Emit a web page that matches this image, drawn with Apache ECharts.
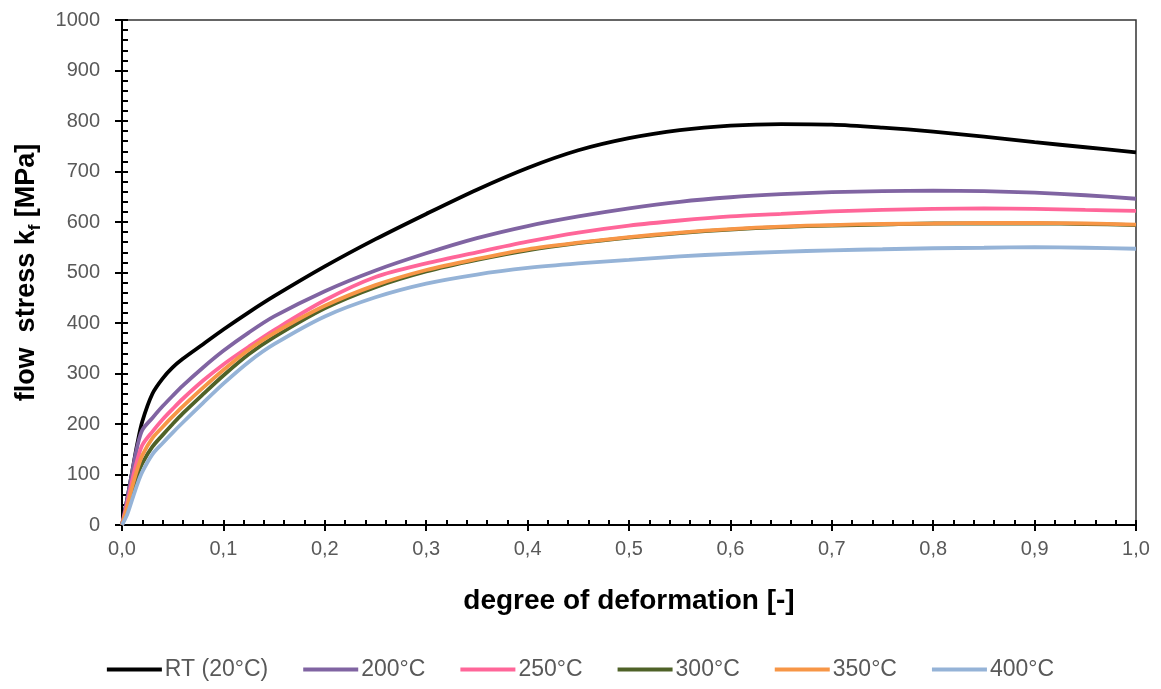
<!DOCTYPE html>
<html>
<head>
<meta charset="utf-8">
<script src="https://cdn.jsdelivr.net/npm/echarts@6/dist/echarts.min.js"></script>
<style>
html,body{margin:0;padding:0;background:#fff;}
#c{width:1161px;height:689px;}
</style>
</head>
<body>
<div id="c"></div>
<script>
const strain = [0, 0.005, 0.01, 0.015, 0.02, 0.03, 0.04, 0.05, 0.06, 0.08, 0.1, 0.125, 0.15, 0.2, 0.25, 0.3, 0.35, 0.4, 0.45, 0.5, 0.55, 0.6, 0.65, 0.7, 0.75, 0.8, 0.85, 0.9, 0.95, 1.0];
const seriesNames = ['RT (20°C)', '200°C', '250°C', '300°C', '350°C', '400°C'];
const kfRT  = [0, 50, 105, 160, 205, 260, 290, 312, 329, 358, 387, 421, 453, 512, 566, 616, 664, 707, 742, 766, 782, 791, 794, 793, 787, 779, 769, 758, 748, 738];
const kf200 = [0, 50, 105, 155, 188, 212, 235, 256, 276, 312, 345, 381, 413, 463, 504, 538, 568, 592, 611, 627, 640, 649, 655, 659, 661, 662, 661, 658, 653, 646];
const kf250 = [0, 42, 88, 128, 158, 185, 209, 230, 250, 286, 318, 353, 386, 445, 491, 518, 540, 561, 579, 593, 603, 611, 616, 621, 624, 626, 627, 626, 624, 622];
const kf300 = [0, 30, 65, 98, 122, 155, 178, 200, 221, 259, 296, 338, 372, 429, 471, 502, 525, 544, 558, 569, 578, 585, 590, 593, 595, 597, 597, 597, 596, 594];
const kf350 = [0, 35, 75, 110, 138, 172, 194, 215, 235, 272, 307, 347, 380, 434, 475, 505, 527, 546, 559, 570, 579, 586, 591, 594, 596, 597, 598, 598, 597, 595];
const kf400 = [0, 20, 50, 80, 105, 140, 162, 183, 203, 242, 280, 323, 358, 413, 451, 478, 496, 509, 518, 525, 532, 537, 541, 544, 546, 548, 549, 550, 549, 547];
const xTicks = {min: 0, max: 1, interval: 0.1};
const yTicks = {min: 0, max: 1000, interval: 100};

const allValues = [kfRT, kf200, kf250, kf300, kf350, kf400];
const colors = ['#000000', '#8064A2', '#FF6699', '#4F6228', '#F79646', '#95B3D7'];

const chart = echarts.init(document.getElementById('c'), null, {renderer: 'canvas'});
const font = 'Liberation Sans, Arial, sans-serif';
const labelColor = '#595959';

const series = seriesNames.map((n, i) => ({
  name: n,
  type: 'line',
  data: strain.map((x, j) => [x, allValues[i][j]]),
  showSymbol: false,
  symbol: 'none',
  smooth: 0.3,
  lineStyle: {color: colors[i], width: 3.8},
  itemStyle: {color: colors[i]},
  z: 2 + i,
  animation: false
}));

chart.setOption({
  animation: false,
  grid: {left: 122, right: 25, top: 20, bottom: 164, show: true, borderColor: '#333', borderWidth: 1.5, backgroundColor: 'transparent'},
  legend: {
    bottom: 3,
    left: 'center',
    icon: 'rect',
    itemWidth: 55,
    itemHeight: 4,
    itemGap: 35,
    textStyle: {fontFamily: font, fontSize: 23, color: labelColor, padding: [0,0,0,-2]},
    data: seriesNames
  },
  xAxis: [
    {
      type: 'value', min: xTicks.min, max: xTicks.max, interval: xTicks.interval, position: 'bottom',
      axisLine: {show: true, onZero: false, lineStyle: {color: '#000', width: 2}},
      axisTick: {show: true, inside: true, length: 5, lineStyle: {color: '#000', width: 2}},
      minorTick: {show: true, splitNumber: 5, length: 5, lineStyle: {color: '#000', width: 2}},
      splitLine: {show: false},
      axisLabel: {margin: 14, fontFamily: font, fontSize: 20, color: labelColor,
        formatter: v => v.toFixed(1).replace('.', ',')},
      name: 'degree of deformation [-]',
      nameLocation: 'middle',
      nameGap: 62,
      nameTextStyle: {fontFamily: font, fontSize: 28, fontWeight: 'bold', color: '#000'}
    },
    {
      type: 'value', min: xTicks.min, max: xTicks.max, interval: xTicks.interval, position: 'bottom',
      axisLine: {show: false, onZero: false},
      axisTick: {show: true, inside: false, length: 6, lineStyle: {color: '#000', width: 2}},
      axisLabel: {show: false}, splitLine: {show: false}
    }
  ],
  yAxis: [
    {
      type: 'value', min: yTicks.min, max: yTicks.max, interval: yTicks.interval, position: 'left',
      axisLine: {show: true, onZero: false, lineStyle: {color: '#000', width: 2}},
      axisTick: {show: true, inside: true, length: 6, lineStyle: {color: '#000', width: 2}},
      minorTick: {show: true, splitNumber: 5, length: 6, lineStyle: {color: '#000', width: 2}},
      splitLine: {show: false},
      axisLabel: {margin: 22, fontFamily: font, fontSize: 20, color: labelColor, formatter: v => String(v)},
      name: '{a|flow  stress k}{s|f}{a| [MPa]}',
      nameLocation: 'middle',
      nameGap: 78,
      nameTextStyle: {
        rich: {
          a: {fontFamily: font, fontSize: 27, fontWeight: 'bold', color: '#000', lineHeight: 34, verticalAlign: 'middle'},
          s: {fontFamily: font, fontSize: 17, fontWeight: 'bold', color: '#000', lineHeight: 17, verticalAlign: 'bottom'}
        }
      }
    },
    {
      type: 'value', min: yTicks.min, max: yTicks.max, interval: yTicks.interval, position: 'left',
      axisLine: {show: false, onZero: false},
      axisTick: {show: true, inside: false, length: 7, lineStyle: {color: '#000', width: 2}},
      axisLabel: {show: false}, splitLine: {show: false}
    }
  ],
  series: series
});
</script>
</body>
</html>
